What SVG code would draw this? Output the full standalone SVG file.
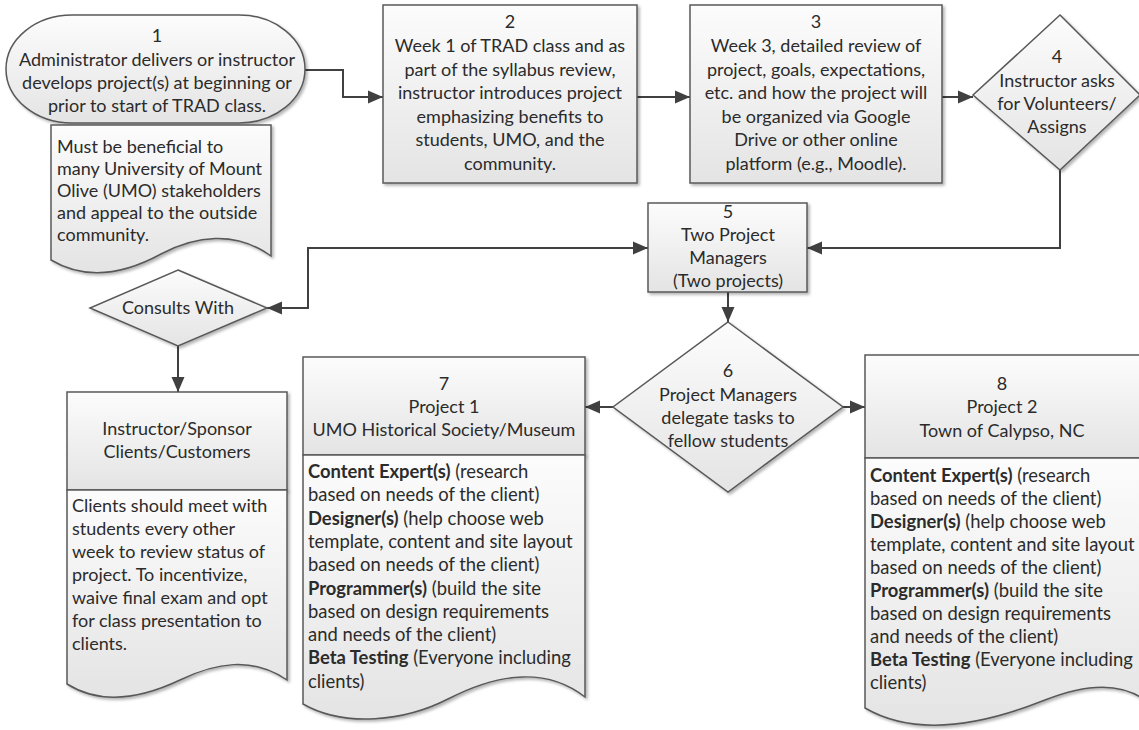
<svg xmlns="http://www.w3.org/2000/svg" width="1139" height="730" viewBox="0 0 1139 730">
<defs>
<linearGradient id="g" x1="0" y1="0" x2="0" y2="1">
<stop offset="0" stop-color="#fcfcfc"/>
<stop offset="1" stop-color="#e4e4e4"/>
</linearGradient>
<filter id="sh" x="-10%" y="-10%" width="130%" height="130%">
<feGaussianBlur in="SourceAlpha" stdDeviation="1.5"/>
<feOffset dx="2" dy="2" result="b"/>
<feComponentTransfer><feFuncA type="linear" slope="0.3"/></feComponentTransfer>
<feMerge><feMergeNode/><feMergeNode in="SourceGraphic"/></feMerge>
</filter>
<marker id="ah" markerUnits="userSpaceOnUse" markerWidth="17" markerHeight="14" refX="15" refY="6.5" orient="auto-start-reverse" viewBox="0 0 17 13">
<path d="M0,0 L15,6.5 L0,13 Z" fill="#404040"/>
</marker>
</defs>
<style>
.s{fill:url(#g);stroke:#595959;stroke-width:1.5;filter:url(#sh)}
text{font-family:Lato,"Liberation Sans",sans-serif;font-size:18px;fill:#2b2b2b}
.c{text-anchor:middle}
.b{font-weight:bold}
.w{font-size:18.4px}
.cn{fill:none;stroke:#404040;stroke-width:2}
</style>

<g id="connectors">
<path class="cn" d="M305,70 H343 V97 H383" marker-end="url(#ah)"/>
<path class="cn" d="M637,97 H690" marker-end="url(#ah)"/>
<path class="cn" d="M942,97 H973" marker-end="url(#ah)"/>
<path class="cn" d="M1060,170 V248 H807" marker-end="url(#ah)"/>
<path class="cn" d="M648,248 H308 V308 H267" marker-start="url(#ah)" marker-end="url(#ah)"/>
<path class="cn" d="M178,346 V392" marker-end="url(#ah)"/>
<path class="cn" d="M728,292 V322" marker-end="url(#ah)"/>
<path class="cn" d="M613,407 H585" marker-end="url(#ah)"/>
<path class="cn" d="M843,407 H865" marker-end="url(#ah)"/>
</g>

<g id="n1">
<rect class="s" x="6" y="15" width="299" height="108" rx="66" ry="54"/>
<text class="c"><tspan x="157" y="42">1</tspan><tspan x="157" y="66">Administrator delivers or instructor</tspan><tspan x="157" y="89">develops project(s) at beginning or</tspan><tspan x="157" y="112">prior to start of TRAD class.</tspan></text>
</g>
<g id="n1note">
<path class="s" d="M51,125 H271 V256 C235,230 195,236 161,254 C128,272 88,282 51,260 Z"/>
<text><tspan x="57" y="153">Must be beneficial to</tspan><tspan x="57" y="175">many University of Mount</tspan><tspan x="57" y="197">Olive (UMO) stakeholders</tspan><tspan x="57" y="219">and appeal to the outside</tspan><tspan x="57" y="241">community.</tspan></text>
</g>

<g id="n2">
<rect class="s" x="383" y="5" width="254" height="178"/>
<text class="c"><tspan x="510" y="28">2</tspan><tspan x="510" y="52">Week 1 of TRAD class and as</tspan><tspan x="510" y="75.5">part of the syllabus review,</tspan><tspan x="510" y="99">instructor introduces project</tspan><tspan x="510" y="122.5">emphasizing benefits  to</tspan><tspan x="510" y="146">students, UMO, and the</tspan><tspan x="510" y="169.5">community.</tspan></text>
</g>

<g id="n3">
<rect class="s" x="690" y="5" width="252" height="178"/>
<text class="c"><tspan x="816" y="28">3</tspan><tspan x="816" y="52">Week 3, detailed review of</tspan><tspan x="816" y="75.5">project, goals, expectations,</tspan><tspan x="816" y="99">etc. and how the  project will</tspan><tspan x="816" y="122.5">be organized via Google</tspan><tspan x="816" y="146">Drive or other online</tspan><tspan x="816" y="169.5">platform (e.g., Moodle).</tspan></text>
</g>

<g id="n4">
<polygon class="s" points="1060,15 1140,95 1060,170 973,95"/>
<text class="c"><tspan x="1057" y="63">4</tspan><tspan x="1057" y="87">Instructor asks</tspan><tspan x="1057" y="110">for Volunteers/</tspan><tspan x="1057" y="133">Assigns</tspan></text>
</g>

<g id="n5">
<rect class="s" x="648" y="203" width="159" height="89"/>
<text class="c"><tspan x="728" y="218">5</tspan><tspan x="728" y="241">Two Project</tspan><tspan x="728" y="264">Managers</tspan><tspan x="728" y="287">(Two projects)</tspan></text>
</g>

<g id="consults">
<polygon class="s" points="178,270 267,308 178,346 90,308"/>
<text class="c" x="178" y="314">Consults With</text>
</g>

<g id="sponsor">
<rect class="s" x="67" y="392" width="220" height="98"/>
<text class="c"><tspan x="177" y="435">Instructor/Sponsor</tspan><tspan x="177" y="458">Clients/Customers</tspan></text>
<path class="s" d="M67,490 H287 V680 C252,656 215,663 180,680 C142,698 102,706 67,684 Z"/>
<text><tspan x="72" y="512">Clients should meet with</tspan><tspan x="72" y="535">students every other</tspan><tspan x="72" y="558">week to review status of</tspan><tspan x="72" y="581">project.  To incentivize,</tspan><tspan x="72" y="604">waive final exam and opt</tspan><tspan x="72" y="627">for class presentation to</tspan><tspan x="72" y="650">clients.</tspan></text>
</g>

<g id="n6">
<polygon class="s" points="728,322 843,407 728,492 613,407"/>
<text class="c"><tspan x="728" y="377">6</tspan><tspan x="728" y="401">Project Managers</tspan><tspan x="728" y="424">delegate tasks to</tspan><tspan x="728" y="447">fellow students</tspan></text>
</g>

<g id="n7">
<rect class="s" x="303" y="357" width="282" height="98"/>
<text class="c"><tspan x="444" y="390">7</tspan><tspan x="444" y="413">Project 1</tspan><tspan x="444" y="436">UMO Historical Society/Museum</tspan></text>
<path class="s" d="M303,455 H585 V697 C548,668 500,672 448,699 C405,721 345,728 303,704 Z"/>
<text class="w"><tspan x="308" y="478"><tspan class="b">Content Expert(s)</tspan> (research</tspan><tspan x="308" y="501.3">based on needs of the client)</tspan><tspan x="308" y="524.6"><tspan class="b">Designer(s)</tspan> (help choose web</tspan><tspan x="308" y="547.9">template, content and site layout</tspan><tspan x="308" y="571.2">based on needs of the client)</tspan><tspan x="308" y="594.5"><tspan class="b">Programmer(s)</tspan> (build the site</tspan><tspan x="308" y="617.8">based on design requirements</tspan><tspan x="308" y="641.1">and needs of the client)</tspan><tspan x="308" y="664.4"><tspan class="b">Beta Testing</tspan> (Everyone including</tspan><tspan x="308" y="687.7">clients)</tspan></text>
</g>

<g id="n8">
<rect class="s" x="865" y="355" width="280" height="103"/>
<text class="c"><tspan x="1002" y="390">8</tspan><tspan x="1002" y="413">Project 2</tspan><tspan x="1002" y="437">Town of Calypso, NC</tspan></text>
<path class="s" d="M865,458 H1145 V700 C1120,682 1085,684 1045,700 C990,722 920,740 865,708 Z"/>
<text class="w"><tspan x="870" y="482"><tspan class="b">Content Expert(s)</tspan> (research</tspan><tspan x="870" y="505">based on needs of the client)</tspan><tspan x="870" y="528"><tspan class="b">Designer(s)</tspan> (help choose web</tspan><tspan x="870" y="551">template, content and site layout</tspan><tspan x="870" y="574">based on needs of the client)</tspan><tspan x="870" y="597"><tspan class="b">Programmer(s)</tspan> (build the site</tspan><tspan x="870" y="620">based on design requirements</tspan><tspan x="870" y="643">and needs of the client)</tspan><tspan x="870" y="666"><tspan class="b">Beta Testing</tspan> (Everyone including</tspan><tspan x="870" y="689">clients)</tspan></text>
</g>
</svg>
